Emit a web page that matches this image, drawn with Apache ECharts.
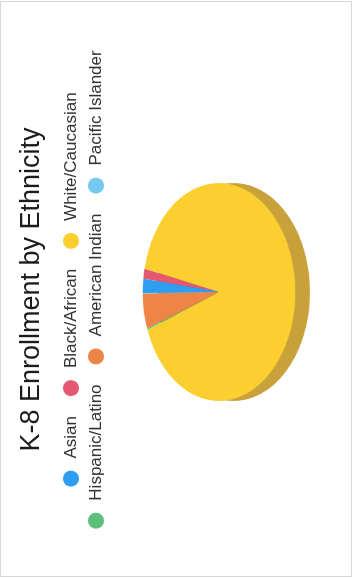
<!DOCTYPE html>
<html>
<head>
<meta charset="utf-8">
<script src="https://cdn.jsdelivr.net/npm/echarts@6/dist/echarts.min.js"></script>
<style>
html,body{margin:0;padding:0;background:#fff;width:360px;height:579px;overflow:hidden;}
#frame{position:absolute;left:0;top:1px;width:352px;height:576px;border:1px solid #d3d7de;box-sizing:border-box;}
#land{position:absolute;left:0;top:0;width:579px;height:360px;transform:translate(0,579px) rotate(-90deg);transform-origin:0 0;}
#pie{position:absolute;left:0;top:0;width:579px;height:520px;transform:scaleY(0.70);transform-origin:0 0;}
#top{position:absolute;left:0;top:0;width:579px;height:360px;}
</style>
</head>
<body>
<div id="frame"></div>
<div id="land">
  <div id="pie"></div>
  <div id="top"></div>
</div>
<script>
// ---- data ----
const titleText = 'K-8 Enrollment by Ethnicity';
const categories = ['Black/African', 'Asian', 'Pacific Islander', 'American Indian', 'Hispanic/Latino', 'White/Caucasian'];
const values = [1.5, 2.1, 0.1, 5.2, 0.2, 90.9];
const faceColors = ['#E4596F', '#2F9DF2', '#74C9EF', '#EE8446', '#5DBF7A', '#FACF2F'];
const sideColors = ['#A8404F', '#2474B3', '#5597B2', '#B06234', '#458E5B', '#C8A13B'];
const legendRow1 = ['Asian', 'Black/African', 'White/Caucasian'];
const legendRow2 = ['Hispanic/Latino', 'American Indian', 'Pacific Islander'];

const FONT = 'Liberation Sans, Arial, sans-serif';
const tilt = 0.70;
const cx = 287, cyScreen = 219, r = 109, depth = 21;
const cy = cyScreen / tilt;

function pieData(colors) {
  return categories.map((n, i) => ({ name: n, value: values[i], itemStyle: { color: colors[i] } }));
}

// pie (tilted via CSS scale)
const pieChart = echarts.init(document.getElementById('pie'), null, { renderer: 'canvas' });
const common = {
  type: 'pie', radius: r, startAngle: 77.6, clockwise: false,
  label: { show: false }, labelLine: { show: false },
  emphasis: { disabled: true }, silent: true, animation: false,
  itemStyle: { borderWidth: 0 }
};
pieChart.setOption({
  animation: false,
  series: [
    Object.assign({}, common, { center: [cx, cy + depth], data: pieData(sideColors) }),
    Object.assign({}, common, { center: [cx, cy], data: pieData(faceColors) })
  ]
});

// title + legend
const topChart = echarts.init(document.getElementById('top'), null, { renderer: 'canvas' });
const legendBase = {
  left: 'center', padding: 0, icon: 'circle',
  itemWidth: 30, itemHeight: 16, itemGap: 20, selectedMode: false,
  textStyle: { fontFamily: FONT, fontSize: 17, lineHeight: 17, color: '#333' }
};
topChart.setOption({
  animation: false,
  title: {
    text: titleText, left: 'center', top: 13,
    textStyle: { fontFamily: FONT, fontSize: 27, fontWeight: 'normal', color: '#1c1c1c' }
  },
  legend: [
    Object.assign({}, legendBase, { top: 62.5, data: legendRow1 }),
    Object.assign({}, legendBase, { top: 87.5, data: legendRow2 })
  ],
  series: [{
    type: 'pie', radius: [0, 0], center: [cx, cyScreen], silent: true,
    label: { show: false }, labelLine: { show: false },
    data: pieData(faceColors)
  }]
});
</script>
</body>
</html>
